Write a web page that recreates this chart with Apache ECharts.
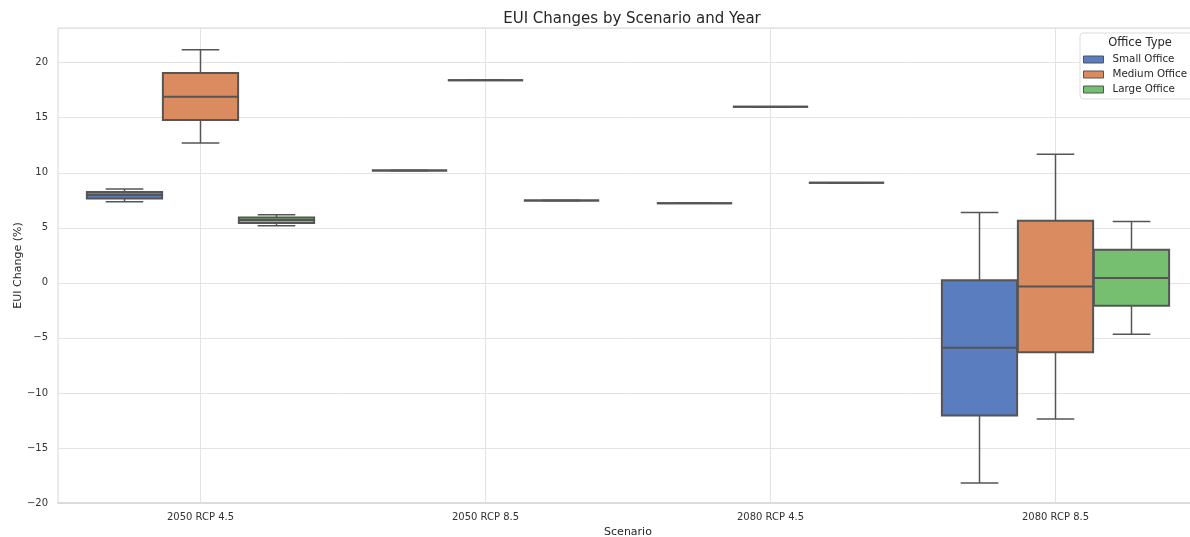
<!DOCTYPE html>
<html>
<head>
<meta charset="utf-8">
<script src="https://cdn.jsdelivr.net/npm/echarts@6/dist/echarts.min.js"></script>
<style>
  html, body { margin: 0; padding: 0; background: #fff; }
  #chart { width: 1190px; height: 537px; }
</style>
</head>
<body>
<div id="chart"></div>
<script>
const scenarios = ['2050 RCP 4.5', '2050 RCP 8.5', '2080 RCP 4.5', '2080 RCP 8.5'];
const officeTypes = ['Small Office', 'Medium Office', 'Large Office'];
const officeColors = ['#597DBF', '#DA8B5F', '#76BF71'];

// per scenario: [whisker low, q1, median, q3, whisker high]
const smallOffice = [
  [7.36, 7.67, 7.98, 8.25, 8.52],
  [10.2, 10.2, 10.2, 10.2, 10.2],
  [7.24, 7.24, 7.24, 7.24, 7.24],
  [-18.18, -12.06, -5.9, 0.24, 6.4]
];
const mediumOffice = [
  [12.7, 14.8, 16.9, 19.06, 21.18],
  [18.4, 18.4, 18.4, 18.4, 18.4],
  [16.0, 16.0, 16.0, 16.0, 16.0],
  [-12.36, -6.3, -0.33, 5.64, 11.67]
];
const largeOffice = [
  [5.18, 5.43, 5.7, 5.94, 6.18],
  [7.48, 7.48, 7.48, 7.48, 7.48],
  [9.09, 9.09, 9.09, 9.09, 9.09],
  [-4.67, -2.09, 0.45, 3.0, 5.58]
];
const yTicks = [-20, -15, -10, -5, 0, 5, 10, 15, 20];

const allData = [smallOffice, mediumOffice, largeOffice];
const LINE = '#555555';
const BOX_FRAC = 0.8 / 3;

const chart = echarts.init(document.getElementById('chart'));

function makeRender(slot) {
  return function (params, api) {
    const cat = api.value(0);
    const band = api.size([1, 0])[0];
    const w = band * BOX_FRAC * 0.99;
    const cx = api.coord([cat, 0])[0] + (slot - 1) * band * BOX_FRAC;
    const y = [1, 2, 3, 4, 5].map(i => api.coord([cat, api.value(i)])[1]);
    const color = api.visual('color');
    const lineStyle = { stroke: LINE, lineWidth: 1.5 };
    return {
      type: 'group',
      children: [
        { type: 'line', shape: { x1: cx, y1: y[0], x2: cx, y2: y[1] }, style: lineStyle },
        { type: 'line', shape: { x1: cx, y1: y[3], x2: cx, y2: y[4] }, style: lineStyle },
        { type: 'line', shape: { x1: cx - w / 4, y1: y[0], x2: cx + w / 4, y2: y[0] }, style: lineStyle },
        { type: 'line', shape: { x1: cx - w / 4, y1: y[4], x2: cx + w / 4, y2: y[4] }, style: lineStyle },
        { type: 'rect', shape: { x: cx - w / 2, y: y[3], width: w, height: y[1] - y[3] },
          style: { fill: color, stroke: LINE, lineWidth: 2 } },
        { type: 'line', shape: { x1: cx - w / 2, y1: y[2], x2: cx + w / 2, y2: y[2] },
          style: { stroke: LINE, lineWidth: 2 } }
      ]
    };
  };
}

const series = officeTypes.map((name, k) => ({
  name: name,
  type: 'custom',
  z: 3,
  itemStyle: { color: officeColors[k] },
  renderItem: makeRender(k),
  encode: { x: 0, y: [1, 2, 3, 4, 5] },
  data: allData[k].map((v, i) => [i].concat(v))
}));

const option = {
  animation: false,
  textStyle: { fontFamily: 'DejaVu Sans' },
  title: [
    {
      text: 'EUI Changes by Scenario and Year',
      left: 627, top: 7, textAlign: 'center',
      textStyle: { fontSize: 15, fontWeight: 'normal', color: '#262626' }
    },
    {
      text: 'Office Type',
      left: 1135, top: 32, textAlign: 'center',
      textStyle: { fontSize: 11.5, fontWeight: 'normal', color: '#262626' }
    }
  ],
  legend: {
    orient: 'vertical',
    left: 1080, top: 33,
    padding: [20, 20, 3, 3],
    backgroundColor: '#fff',
    borderColor: '#dddddd', borderWidth: 1, borderRadius: 3,
    icon: 'rect',
    itemWidth: 20, itemHeight: 7, itemGap: 2,
    itemStyle: { borderColor: LINE, borderWidth: 1 },
    textStyle: { fontSize: 10.3, color: '#262626', lineHeight: 13, padding: [0, 0, 0, 4] },
    data: officeTypes
  },
  grid: {
    left: 58, top: 28, width: 1140, height: 475,
    outerBoundsMode: 'none',
    containLabel: false,
    show: true, borderColor: '#d6d6d6', borderWidth: 1
  },
  xAxis: {
    type: 'category',
    data: scenarios,
    name: 'Scenario',
    nameLocation: 'middle',
    nameGap: 24,
    nameMoveOverlap: false,
    nameTextStyle: { fontSize: 11, color: '#262626' },
    axisLine: { show: true, onZero: false, lineStyle: { color: '#dcdcdc', width: 2 } },
    axisTick: { show: false },
    axisLabel: { fontSize: 10, color: '#333', margin: 9 },
    splitLine: { show: true, alignWithLabel: true, lineStyle: { color: '#e3e3e3', width: 1 } }
  },
  yAxis: {
    type: 'value',
    min: yTicks[0], max: 23.15, interval: 5,
    name: 'EUI Change (%)',
    nameLocation: 'middle',
    nameGap: 34,
    nameMoveOverlap: false,
    nameTextStyle: { fontSize: 11, color: '#262626' },
    axisLine: { show: false },
    axisTick: { show: false },
    axisLabel: {
      fontSize: 10, color: '#333', margin: 10, showMaxLabel: false,
      formatter: v => yTicks.includes(v) ? String(v).replace('-', '\u2212') : ''
    },
    splitLine: { lineStyle: { color: '#e3e3e3', width: 1 } }
  },
  series: series
};

chart.setOption(option);
</script>
</body>
</html>
